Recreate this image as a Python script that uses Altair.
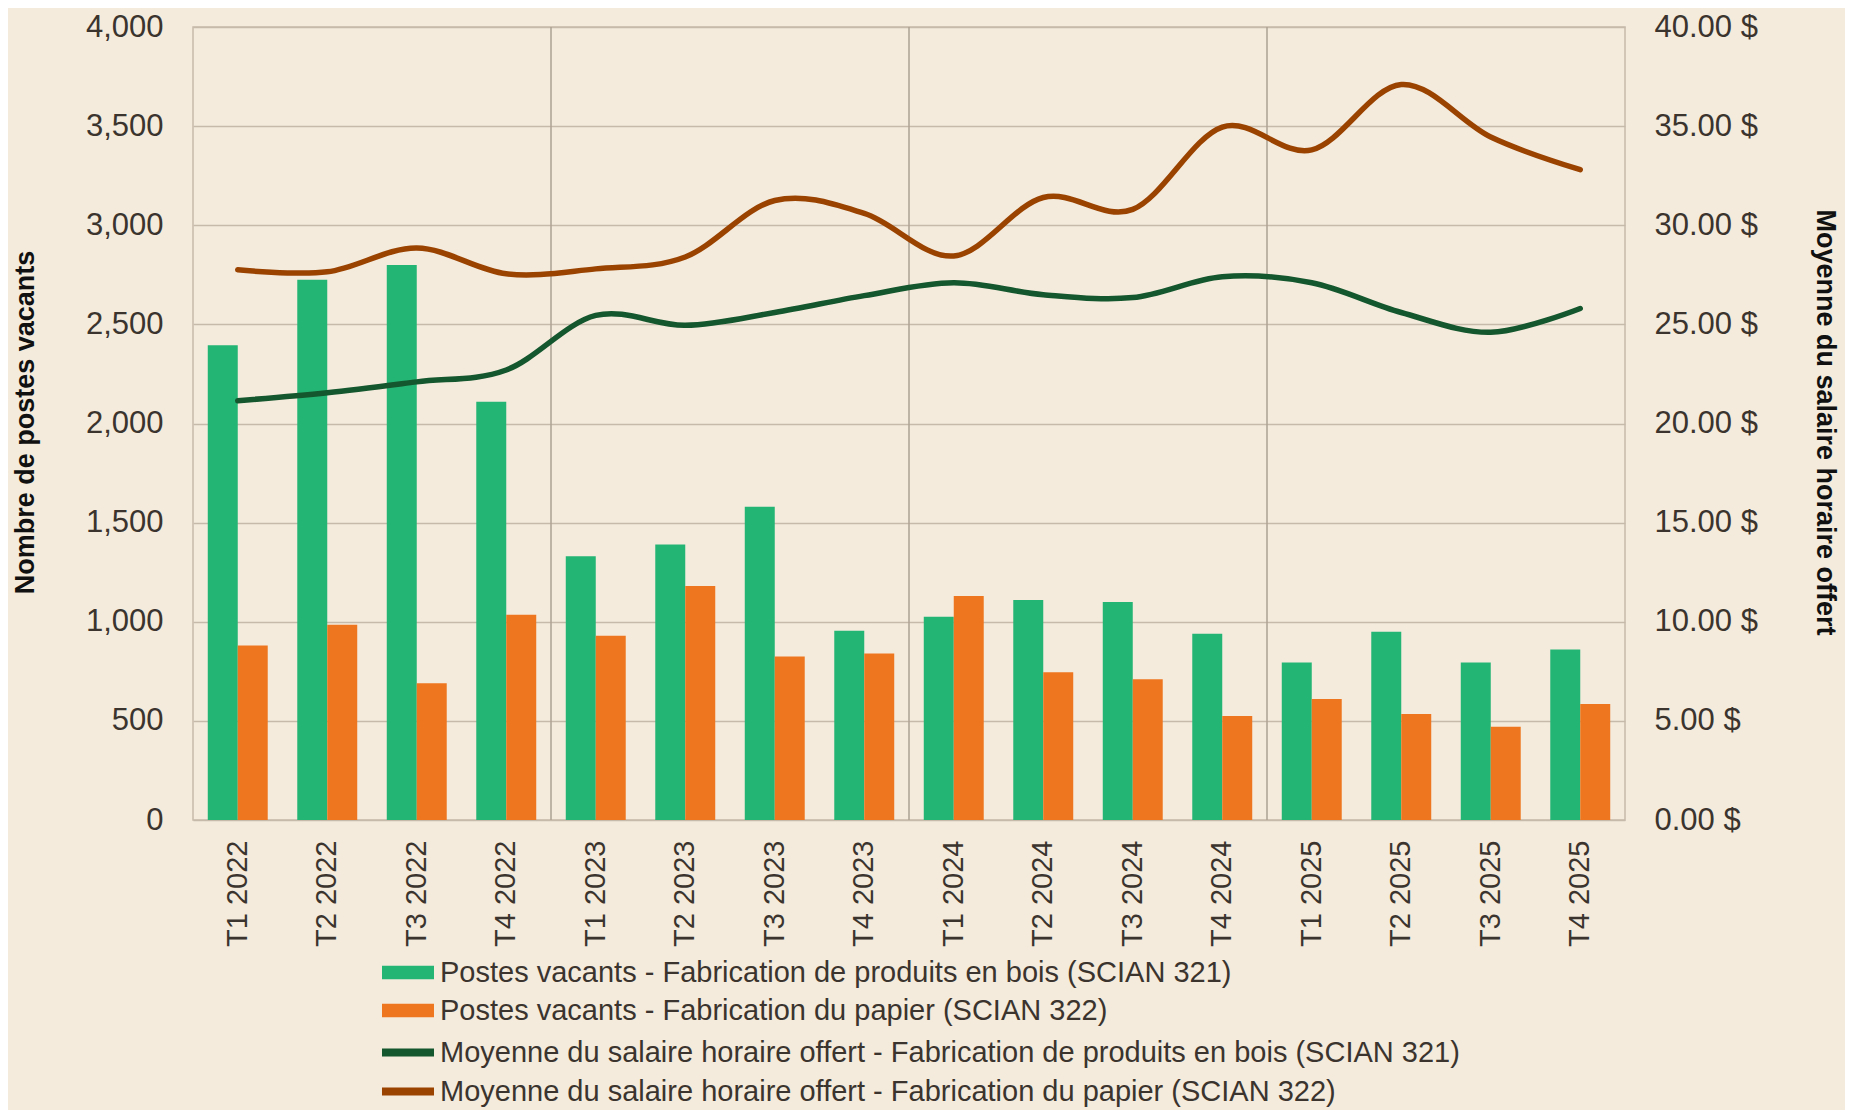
import altair as alt
import pandas as pd

# ---------------- data ----------------
categories = ["T1 2022", "T2 2022", "T3 2022", "T4 2022",
              "T1 2023", "T2 2023", "T3 2023", "T4 2023",
              "T1 2024", "T2 2024", "T3 2024", "T4 2024",
              "T1 2025", "T2 2025", "T3 2025", "T4 2025"]

wood_vacancies = [2395, 2725, 2800, 2110, 1330, 1390, 1580, 955,
                  1025, 1110, 1100, 940, 795, 950, 795, 860]
paper_vacancies = [880, 985, 690, 1035, 930, 1180, 825, 840,
                   1130, 745, 710, 525, 610, 535, 470, 585]

wood_wage = [21.15, 21.55, 22.10, 22.70, 25.45, 24.95, 25.60, 26.45,
             27.10, 26.50, 26.35, 27.40, 27.10, 25.60, 24.60, 25.80]
paper_wage = [27.75, 27.65, 28.85, 27.55, 27.80, 28.40, 31.25, 30.60,
              28.45, 31.40, 30.80, 34.95, 33.80, 37.10, 34.45, 32.80]

bar_series = ["Postes vacants - Fabrication de produits en bois (SCIAN 321)",
              "Postes vacants - Fabrication du papier (SCIAN 322)"]
line_series = ["Moyenne du salaire horaire offert - Fabrication de produits en bois (SCIAN 321)",
               "Moyenne du salaire horaire offert - Fabrication du papier (SCIAN 322)"]

# year boundaries (number of quarters before the first quarter of each new year)
year_boundaries = [4, 8, 12]

# ---------------- style ----------------
FONT = "Liberation Sans"
BG = "#F4EBDC"
GRID = "#C6BBAB"
VGRID = "#ADA294"
TEXT = "#3B342E"
GREEN = "#23B574"
ORANGE = "#EE761F"
DKGREEN = "#14562D"
BROWN = "#9A4200"

bars_df = pd.DataFrame({
    "cat": categories * 2,
    "series": [bar_series[0]] * len(categories) + [bar_series[1]] * len(categories),
    "value": wood_vacancies + paper_vacancies,
})
lines_df = pd.DataFrame({
    "cat": categories * 2,
    "series": [line_series[0]] * len(categories) + [line_series[1]] * len(categories),
    "wage": wood_wage + paper_wage,
})
rules_df = pd.DataFrame({"pos": year_boundaries})

x_scale = alt.Scale(domain=categories, paddingInner=0.33, paddingOuter=0.165)

x_bars = alt.X("cat:N", scale=x_scale,
               axis=alt.Axis(title=None, labelAngle=270, labelFontSize=29,
                             labelFont=FONT, labelColor=TEXT, labelPadding=20,
                             ticks=False, domain=False, grid=False))
x_lines = alt.X("cat:N", scale=x_scale, axis=None)

legend_common = dict(title=None, orient="none", direction="vertical",
                     labelFont=FONT, labelFontSize=29, labelColor=TEXT,
                     labelOffset=11.5, labelLimit=0, padding=0, legendX=194.5)

bars = alt.Chart(bars_df).mark_bar().encode(
    x=x_bars,
    xOffset=alt.XOffset("series:N", scale=alt.Scale(domain=bar_series, paddingInner=0, paddingOuter=0)),
    y=alt.Y("value:Q",
            scale=alt.Scale(domain=[0, 4000], nice=False, zero=True),
            axis=alt.Axis(values=list(range(0, 4001, 500)), format=",d",
                          title="Nombre de postes vacants",
                          titleFont=FONT, titleFontSize=27, titleFontWeight="bold",
                          titleColor="#111111", titleAngle=270, titleX=-168, titleY=395,
                          titleAlign="center", titleBaseline="middle",
                          labelFont=FONT, labelFontSize=31, labelColor=TEXT,
                          labelPadding=30, ticks=False, domain=False,
                          grid=True, gridColor=GRID, gridWidth=1.5)),
    color=alt.Color("series:N",
                    scale=alt.Scale(domain=bar_series, range=[GREEN, ORANGE]),
                    legend=alt.Legend(legendY=925,
                                      symbolType="M-1.268,-0.327H1.268V0.327H-1.268Z",
                                      symbolSize=1681, symbolStrokeWidth=0,
                                      **legend_common)),
)

lines = alt.Chart(lines_df).mark_line(interpolate="cardinal", strokeWidth=5.5,
                                      strokeCap="round", strokeJoin="round").encode(
    x=x_lines,
    y=alt.Y("wage:Q",
            scale=alt.Scale(domain=[0, 40], nice=False, zero=True),
            axis=alt.Axis(orient="right", values=list(range(0, 41, 5)),
                          labelExpr="format(datum.value, '.2f') + ' $'",
                          title="Moyenne du salaire horaire offert",
                          titleFont=FONT, titleFontSize=27, titleFontWeight="bold",
                          titleColor="#111111", titleAngle=90, titleX=199, titleY=395,
                          titleAlign="center", titleBaseline="middle",
                          labelFont=FONT, labelFontSize=31, labelColor=TEXT,
                          labelPadding=29, ticks=False, domain=False, grid=False)),
    stroke=alt.Stroke("series:N",
                      scale=alt.Scale(domain=line_series, range=[DKGREEN, BROWN]),
                      legend=alt.Legend(legendY=1005,
                                        symbolType="M-1.576,0H1.576",
                                        symbolSize=1089, symbolStrokeWidth=8,
                                        **legend_common)),
)

rules = alt.Chart(rules_df).mark_rule(color=VGRID, strokeWidth=1.5).encode(
    x=alt.X("pos:Q", scale=alt.Scale(domain=[0, len(categories)], nice=False, zero=True), axis=None),
)

chart = alt.layer(rules, bars, lines).resolve_scale(
    x="independent", y="independent"
).properties(
    width=1432, height=793,
    background=BG,
    padding={"left": 185, "top": 19, "right": 220, "bottom": 290},
    autosize=alt.AutoSizeParams(type="none"),
).configure_view(
    stroke=GRID, strokeWidth=1.5
)

chart.save("out.html", embed_options={"renderer": "svg", "actions": False})
